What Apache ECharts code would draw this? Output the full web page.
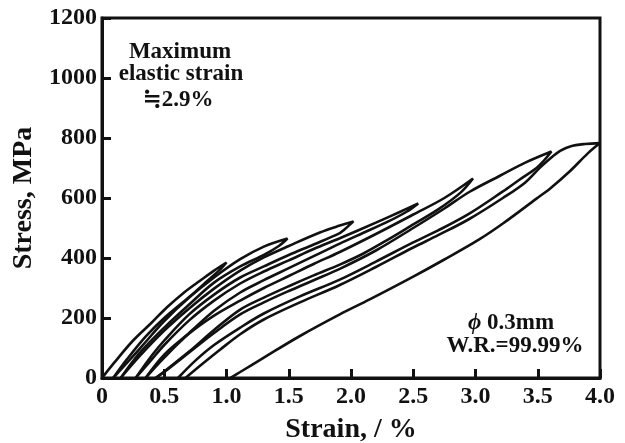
<!DOCTYPE html>
<html>
<head>
<meta charset="utf-8">
<script src="https://cdn.jsdelivr.net/npm/echarts@6.0.0/dist/echarts.min.js"></script>
<style>
  html, body { margin: 0; padding: 0; background: #fff; }
  #main { width: 625px; height: 443px; }
</style>
</head>
<body>
<div id="main"></div>
<script>
// tick labels
const xTickLabels = ['0', '0.5', '1.0', '1.5', '2.0', '2.5', '3.0', '3.5', '4.0'];
const yTickLabels = ['0', '200', '400', '600', '800', '1000', '1200'];

// [strain %, stress MPa], one loading and one unloading branch per cycle
const load1 = [[0,0],[0.1,52],[0.25,125],[0.4,185],[0.52,235],[0.65,282],[0.79,325],[0.9,358],[1.0,385]];
const unload1 = [[1.0,385],[0.95,362],[0.85,325],[0.7,270],[0.5,200],[0.35,138],[0.2,62],[0.09,0]];
const load2 = [[0.09,0],[0.2,50],[0.35,120],[0.5,190],[0.7,268],[0.9,335],[1.11,396],[1.3,438],[1.49,465]];
const unload2 = [[1.49,465],[1.42,440],[1.3,410],[1.11,372],[0.9,318],[0.7,245],[0.5,168],[0.3,82],[0.15,0]];
const load3 = [[0.15,0],[0.3,72],[0.5,158],[0.7,232],[0.9,298],[1.11,358],[1.3,402],[1.5,440],[1.75,485],[1.91,508],[2.02,522]];
const unload3 = [[2.02,522],[1.95,496],[1.91,483],[1.7,445],[1.5,410],[1.3,372],[1.11,335],[0.9,278],[0.7,212],[0.5,125],[0.4,75],[0.27,0]];
const load4 = [[0.27,0],[0.4,62],[0.5,110],[0.7,192],[0.9,258],[1.11,315],[1.3,355],[1.5,392],[1.7,430],[1.91,466],[2.2,518],[2.4,555],[2.54,582]];
const unload4 = [[2.54,582],[2.45,555],[2.3,522],[2.1,484],[1.91,448],[1.7,406],[1.5,366],[1.3,326],[1.11,285],[0.9,224],[0.7,150],[0.5,78],[0.35,0]];
const load5 = [[0.35,0],[0.5,68],[0.7,148],[0.9,208],[1.11,258],[1.3,300],[1.5,340],[1.7,380],[1.91,420],[2.2,480],[2.5,545],[2.75,600],[2.98,665]];
const unload5 = [[2.98,665],[2.88,618],[2.7,562],[2.5,512],[2.3,462],[2.1,415],[1.91,378],[1.7,342],[1.5,306],[1.3,268],[1.11,228],[0.9,160],[0.7,88],[0.5,22],[0.43,0]];
const load6 = [[0.43,0],[0.5,20],[0.7,85],[0.9,150],[1.11,212],[1.3,252],[1.5,290],[1.7,326],[1.91,364],[2.2,425],[2.5,500],[2.75,565],[2.95,620],[3.2,675],[3.4,718],[3.61,755]];
const unload6 = [[3.61,755],[3.55,725],[3.49,700],[3.35,660],[3.22,622],[2.95,548],[2.7,492],[2.5,452],[2.2,388],[1.91,328],[1.59,272],[1.3,215],[1.11,168],[0.9,110],[0.75,58],[0.61,0]];
const load7 = [[0.67,0],[0.8,45],[0.95,95],[1.11,146],[1.3,195],[1.59,252],[1.91,310],[2.2,370],[2.5,435],[2.7,476],[2.95,530],[3.22,600],[3.4,652],[3.52,702],[3.6,732],[3.68,757],[3.76,772],[3.88,780],[4.0,783]];
const unload7 = [[4.0,783],[3.9,748],[3.76,690],[3.6,632],[3.49,598],[3.22,515],[3.03,462],[2.75,395],[2.5,338],[2.15,262],[1.91,212],[1.59,140],[1.3,68],[1.11,20],[1.03,0]];

const cycles = [
  [load1, unload1], [load2, unload2], [load3, unload3], [load4, unload4],
  [load5, unload5], [load6, unload6], [load7, unload7]
];

const serif = '"Liberation Serif", "DejaVu Serif", "Times New Roman", serif';

const myChart = echarts.init(document.getElementById('main'));

const series = cycles.map((c, i) => ({
  name: 'cycle' + (i + 1),
  type: 'line',
  data: c[0].concat(c[1].slice(1)),
  showSymbol: false,
  smooth: 0.35,
  lineStyle: { color: '#111', width: 2.6 },
  animation: false
}));

const labelFont = 'bold 23px ' + serif;

const option = {
  backgroundColor: '#fff',
  animation: false,
  grid: {
    left: 102, top: 18, width: 498, height: 360,
    show: true, borderColor: '#111', borderWidth: 3,
    outerBoundsMode: 'none'
  },
  xAxis: {
    type: 'value',
    min: 0, max: 4, interval: 0.5,
    name: 'Strain, / %',
    nameLocation: 'middle',
    nameGap: 38,
    nameTextStyle: { fontFamily: serif, fontWeight: 'bold', fontSize: 28, color: '#111' },
    axisLine: { show: true, lineStyle: { color: '#111', width: 3 } },
    axisTick: { show: true, inside: true, length: 9, lineStyle: { color: '#111', width: 3 } },
    splitLine: { show: false },
    axisLabel: {
      margin: 7,
      fontFamily: serif, fontWeight: 'bold', fontSize: 24, color: '#111',
      formatter: (v) => xTickLabels[Math.round(v / 0.5)]
    }
  },
  yAxis: {
    type: 'value',
    min: 0, max: 1200, interval: 200,
    name: 'Stress, MPa',
    nameLocation: 'middle',
    nameGap: 60,
    nameTextStyle: { fontFamily: serif, fontWeight: 'bold', fontSize: 28, color: '#111' },
    axisLine: { show: true, lineStyle: { color: '#111', width: 3 } },
    axisTick: { show: true, inside: true, length: 9, lineStyle: { color: '#111', width: 3 } },
    splitLine: { show: false },
    axisLabel: {
      margin: 5,
      fontFamily: serif, fontWeight: 'bold', fontSize: 24, color: '#111',
      formatter: (v) => yTickLabels[Math.round(v / 200)]
    }
  },
  graphic: [
    { type: 'text', x: 180, y: 41, style: { text: 'Maximum', font: labelFont, fill: '#111', align: 'center' } },
    { type: 'text', x: 181, y: 63, style: { text: 'elastic strain', font: labelFont, fill: '#111', align: 'center' } },
    { type: 'text', x: 178, y: 89, style: { text: '≒2.9%', font: labelFont, fill: '#111', align: 'center' } },
    {
      type: 'text', x: 511, y: 312,
      style: {
        text: '{i|ϕ} 0.3mm', font: labelFont, fill: '#111', align: 'center',
        rich: { i: { fontStyle: 'italic', fontWeight: 'bold', fontSize: 23, fontFamily: serif } }
      }
    },
    { type: 'text', x: 515, y: 335, style: { text: 'W.R.=99.99%', font: labelFont, fill: '#111', align: 'center' } }
  ],
  series: series
};

option && myChart.setOption(option);
</script>
</body>
</html>
